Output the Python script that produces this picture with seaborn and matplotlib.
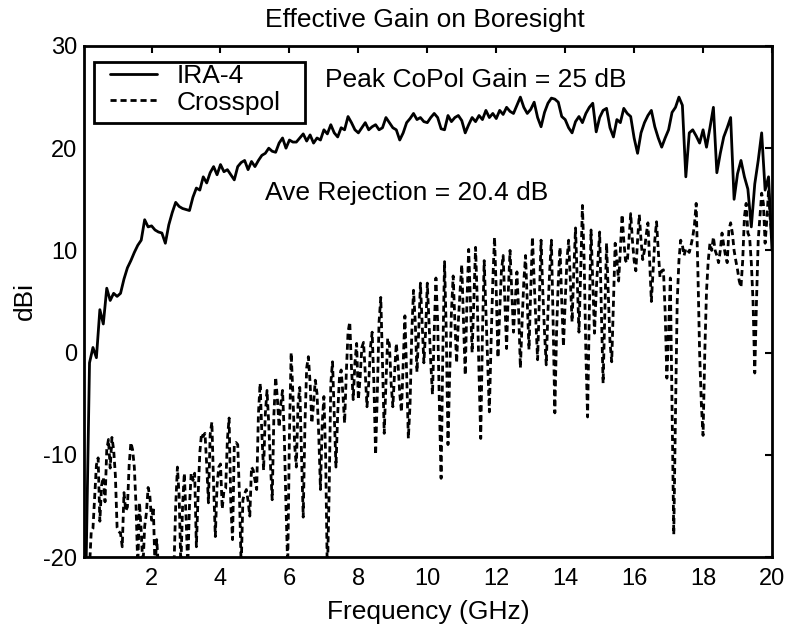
import numpy as np
import pandas as pd
import seaborn as sns
import matplotlib
matplotlib.use("Agg")
import matplotlib.pyplot as plt
from matplotlib.patches import Rectangle

# Frequency grids (GHz)
copol_freq = np.round(np.arange(1, 201) * 0.1, 2)
xpol_freq = np.round(np.arange(1, 401) * 0.05, 2)

# Co-polar boresight gain of the IRA-4 (dBi), 0.1 GHz steps
copol_gain = [
    -21, -1, 0.5, -0.5, 4.2, 2.8, 6.3, 5.1, 5.8, 5.5,
    5.8, 7.2, 8.3, 9.0, 9.8, 10.5, 11.0, 13.0, 12.3, 12.4,
    12.0, 11.8, 11.7, 10.7, 12.5, 13.7, 14.7, 14.3, 14.1, 14.0,
    13.9, 15.2, 16.1, 15.9, 17.2, 16.6, 17.6, 18.2, 17.4, 18.4,
    17.7, 17.9, 17.4, 16.9, 18.2, 18.6, 18.8, 17.9, 18.7, 18.2,
    18.8, 19.3, 19.5, 20.0, 19.7, 19.6, 20.5, 21.0, 20.0, 20.8,
    20.6, 20.6, 21.0, 21.4, 20.7, 21.3, 20.5, 21.0, 20.8, 21.8,
    21.4, 22.3, 21.5, 21.1, 22.0, 21.8, 23.1, 22.5, 21.8, 21.5,
    22.0, 22.5, 21.8, 22.1, 22.3, 21.8, 22.0, 23.0, 22.5, 22.0,
    21.8, 20.8, 21.5, 22.5, 22.9, 23.4, 22.8, 23.0, 22.6, 22.5,
    23.0, 23.4, 23.0, 21.9, 21.8, 23.2, 22.6, 23.0, 23.2, 22.7,
    21.5, 22.3, 23.0, 22.6, 23.2, 22.8, 23.7, 23.0, 23.4, 22.9,
    23.7, 23.3, 24.0, 23.6, 23.4, 24.2, 25.0, 24.0, 23.4, 23.8,
    24.5, 23.0, 22.1, 23.5, 24.4, 24.9, 24.8, 24.5, 23.1, 22.8,
    22.0, 21.5, 22.6, 23.1, 22.5, 23.4, 24.0, 24.4, 21.6, 23.0,
    23.7, 23.9, 22.0, 21.1, 22.8, 22.5, 23.9, 23.4, 23.1, 21.0,
    19.5, 21.5, 22.5, 23.2, 23.7, 22.1, 21.0, 20.1, 21.0, 21.8,
    23.5, 24.0, 25.0, 24.2, 17.2, 21.5, 21.8, 21.2, 20.5, 21.8,
    20.1, 22.0, 24.0, 17.6, 19.5, 21.1, 22.0, 23.0, 15.0, 17.5,
    18.8, 17.2, 16.0, 12.3, 16.5, 18.8, 21.5, 15.9, 17.2, 10.0,
]

# Cross-polar gain (dBi), 0.05 GHz steps
xpol_gain = [
    -25, -24, -22, -21, -17.5, -17.2, -14, -11, -10.3, -16.5, -13, -12.2, -14.6, -9.5, -8.5, -11.3, -8.3, -9.5, -12, -17.1,
    -17.5, -17.7, -19.0, -13.7, -15.5, -15.1, -11, -8.8, -9.5, -11.2, -15, -21, -14.7, -17.5, -21, -17, -15.7, -13.2, -14, -16.4,
    -15.1, -21, -18.3, -21, -24, -25, -25, -25, -25, -25, -25, -24, -21, -15, -11.2, -14, -21, -15, -11.8, -16,
    -21, -15, -11.8, -12.5, -11.8, -19.0, -14, -9.8, -7.9, -8.2, -7.9, -11, -14.7, -8, -6.8, -13, -18.0, -13, -11.2, -10.9,
    -15.3, -13.5, -13.3, -8.5, -6.4, -15, -18.3, -9, -8.8, -9.0, -14, -21, -14.4, -13.8, -13.4, -14.5, -16.0, -11.2, -11.5, -12.5,
    -13.4, -6, -3.0, -8, -11.5, -6, -3.7, -7, -11, -14.4, -6, -2.4, -4.5, -7.3, -5, -3.7, -8, -15, -21, -8,
    0.0, -4, -9, -11.2, -5, -3.4, -10, -16.1, -7, -1.5, -0.4, -3, -6.9, -5, -2.7, -4, -8, -13.4, -7, -4.3,
    -10, -22, -14, -3, -0.9, -6, -11.2, -6, -2.5, -1.7, -4, -6.9, -2, 2.0, 3.0, -1.5, -4.6, -1, 0.9, -4.6,
    -2.5, 0.5, 1.0, -2, -5.3, -3, 0.5, 2.0, -3, -10.0, -4, 3, 5.4, -1, -7.9, -3, 1.4, 0.8, -3, -5.3,
    -2, 0.9, -1, -4, -5.8, -1, 3.6, -2, -8.4, -5, 2, 6.1, 3, -1.9, 2, 6.8, 3, -1, 2, 6.8,
    3, -1, -4.1, 2, 7.3, 3, -5, -12.3, 0, 8.9, 2, -9.0, -2, 4, 7.5, 3, -1, 3, 6, 8.6,
    3, -2.2, 5, 10.1, 5, 0, 5, 10.3, 5, -2, -8.4, 2, 9, 4, -1, -5.8, 1, 7, 11.3, 6,
    -0.5, 4, 8, 9.5, 5, 0.4, 6, 10, 6, 2, 5, 7.9, 4, -1.5, 3, 7, 9.5, 5, 0.3, 6,
    11.3, 7, 3, -0.7, 5, 11.0, 6, 2, -1.2, 4, 8, 11.0, 3, -5.9, 2, 7, 10.3, 5, 0.6, 5,
    9, 11.0, 7, 3, 8, 12.2, 7, 2, 8, 14.4, 9, 0, -6.3, 4, 12.0, 7, 1.9, 6, 9, 11.8,
    4, -3.0, 4, 10.7, 6, 1, -0.9, 5, 10.7, 9, 7, 10, 13.5, 11, 9, 8.8, 11, 13.6, 11, 9,
    8, 11, 13.5, 11, 9.1, 10, 11.5, 12.7, 9, 5.0, 8, 11, 12.8, 10, 7.4, 8, 8.1, 4, -2.5, 2,
    7.3, -5, -17.8, -6, 5, 9, 11.0, 10.5, 9.5, 10.2, 10.0, 9.8, 10.5, 11.3, 12.5, 14.6, 8, 0, -5, -8.1,
    0, 6, 9, 10.7, 10, 11.3, 10, 9.5, 8.8, 10, 11.7, 10.5, 9.5, 8.8, 12, 12.7, 11.7, 10, 9, 8.1,
    7, 6.4, 9, 13.3, 14.6, 11.7, 11.3, 8.8, 5, -2.0, 5, 11, 13.3, 15.6, 14.6, 10.7, 13, 15.9, 13, 11.3,
]

x_ticks = [2, 4, 6, 8, 10, 12, 14, 16, 18, 20]
y_ticks = [-20, -10, 0, 10, 20, 30]

assert len(copol_gain) == len(copol_freq)
assert len(xpol_gain) == len(xpol_freq)

copol = pd.DataFrame({"freq": copol_freq, "gain": copol_gain})
xpol = pd.DataFrame({"freq": xpol_freq, "gain": xpol_gain})

sns.set_theme(style="white")
plt.rcParams["font.family"] = ["Liberation Sans", "DejaVu Sans"]
plt.rcParams["axes.unicode_minus"] = False
plt.rcParams["text.color"] = "black"
plt.rcParams["axes.labelcolor"] = "black"

W, H = 790, 628
fig = plt.figure(figsize=(W / 100, H / 100), dpi=100)
ax_l, ax_r, ax_t, ax_b = 84, 772, 46, 557
ax = fig.add_axes([ax_l / W, (H - ax_b) / H, (ax_r - ax_l) / W, (ax_b - ax_t) / H])

sns.lineplot(data=copol, x="freq", y="gain", color="black", linewidth=2.0,
             estimator=None, ax=ax, label="IRA-4")
sns.lineplot(data=xpol, x="freq", y="gain", color="black", linewidth=2.0,
             estimator=None, ax=ax, label="Crosspol",
             linestyle=(0, (2.2, 1.4)))

ax.set_xlim(0.04, 20)
ax.set_ylim(-20, 30)
ax.set_xticks(x_ticks)
ax.set_yticks(y_ticks)
ax.tick_params(direction="in", length=5, width=1.5, top=True, right=True,
               labelsize=17, colors="black")
ax.tick_params(axis="x", pad=8)
ax.tick_params(axis="y", pad=5)
for side in ax.spines.values():
    side.set_color("black")
    side.set_linewidth(2.0)

ax.set_xlabel("Frequency (GHz)", fontsize=19)
ax.set_ylabel("dBi", fontsize=19)
ax.xaxis.set_label_coords(0.5, -0.084)
ax.yaxis.set_label_coords(-0.068, 0.5)

fig.text(265 / W, 1 - 27 / H, "Effective Gain on Boresight", fontsize=19,
         ha="left", va="baseline")

ax.text(7.02, 26.7, "Peak CoPol Gain = 25 dB", fontsize=19, ha="left", va="center")
ax.text(5.28, 15.6, "Ave Rejection = 20.4 dB", fontsize=19, ha="left", va="center")

# Legend box drawn as its own rectangle, entries placed inside it
box_l, box_r, box_t, box_b = 94, 305, 62, 123
ax.add_patch(Rectangle(((box_l - ax_l) / (ax_r - ax_l), (ax_b - box_b) / (ax_b - ax_t)),
                       (box_r - box_l) / (ax_r - ax_l), (box_b - box_t) / (ax_b - ax_t),
                       transform=ax.transAxes, facecolor="white", edgecolor="black",
                       linewidth=2.0, zorder=4.5))
ax.legend(loc="upper left",
          bbox_to_anchor=((110 - ax_l) / (ax_r - ax_l), (ax_b - 64) / (ax_b - ax_t)),
          borderaxespad=0, borderpad=0, frameon=False, fontsize=19,
          handlelength=1.78, handletextpad=0.76, labelspacing=0.1)

fig.savefig("out.png", dpi=100, facecolor="white")
